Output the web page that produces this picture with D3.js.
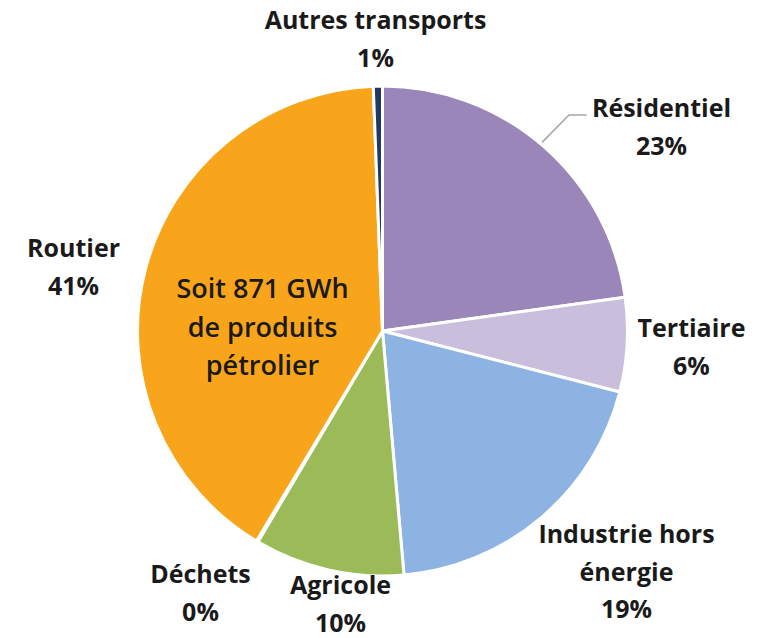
<!DOCTYPE html>
<html>
<head>
<meta charset="utf-8">
<script src="https://cdn.jsdelivr.net/npm/d3@7"></script>
<style>
  html, body { margin: 0; padding: 0; background: #fff; }
  svg { display: block; font-family: "Open Sans", Lato, sans-serif; }
  .label { font-weight: 700; font-size: 25px; fill: #1a1a1a; }
  .center { font-weight: 600; font-size: 27px; fill: #1a1a1a; }
</style>
</head>
<body>
<svg width="766" height="638"></svg>
<script>
// parts de la consommation de produits pétroliers (sens horaire depuis midi)
const categories = ["Résidentiel", "Tertiaire", "Industrie hors énergie", "Agricole", "Déchets", "Routier", "Autres transports"];
const shares = [22.8, 6.2, 19.6, 9.9, 0.1, 40.8, 0.6];
const shareLabels = ["23%", "6%", "19%", "10%", "0%", "41%", "1%"];
const labelLines = [["Résidentiel"], ["Tertiaire"], ["Industrie hors", "énergie"], ["Agricole"], ["Déchets"], ["Routier"], ["Autres transports"]];
const centerLines = ["Soit 871 GWh", "de produits", "pétrolier"];

const colors = ["#9a86b8", "#c9bfdc", "#8db3e2", "#9bbb59", "#7f7f7f", "#f9a51b", "#1f3864"];

// label anchor (centre x, first baseline) relative to the pie centre
const labelPos = {
  "Résidentiel": [279, -214],
  "Tertiaire": [309, 6],
  "Industrie hors énergie": [244, 212],
  "Agricole": [-42, 263],
  "Déchets": [-182, 252],
  "Routier": [-309, -74],
  "Autres transports": [-7, -302]
};

const cx = 382.5, cy = 331, radius = 245, lineH = 37.5;

const svg = d3.select("svg");
const g = svg.append("g").attr("transform", `translate(${cx},${cy})`);

const pie = d3.pie().sort(null).value((d) => d.value);
const arc = d3.arc().innerRadius(0).outerRadius(radius);

const data = categories.map((c, i) => ({ name: c, value: shares[i], pct: shareLabels[i], lines: labelLines[i], color: colors[i] }));
const arcs = pie(data);

g.selectAll("path")
  .data(arcs)
  .join("path")
  .attr("d", arc)
  .attr("fill", (d) => d.data.color)
  .attr("stroke", "#fff")
  .attr("stroke-width", 3)
  .attr("stroke-linejoin", "round");

// leader line for Résidentiel
const res = arcs[0];
const onEdge = d3.pointRadial(res.startAngle + (res.endAngle - res.startAngle) * 0.49, radius + 2);
g.append("polyline")
  .attr("points", [onEdge, [onEdge[0] + 27, -216], [204, -216]].map((p) => p.join(",")).join(" "))
  .attr("fill", "none")
  .attr("stroke", "#a6a6a6")
  .attr("stroke-width", 1.5);

const labels = g.selectAll("text.label")
  .data(arcs)
  .join("text")
  .attr("class", "label")
  .attr("text-anchor", "middle")
  .attr("x", (d) => labelPos[d.data.name][0])
  .attr("y", (d) => labelPos[d.data.name][1]);

labels.selectAll("tspan")
  .data((d) => d.data.lines.concat([d.data.pct]).map((t) => ({ t, x: labelPos[d.data.name][0] })))
  .join("tspan")
  .attr("x", (d) => d.x)
  .attr("dy", (d, i) => (i === 0 ? 0 : lineH))
  .text((d) => d.t);

g.append("text")
  .attr("class", "center")
  .attr("text-anchor", "middle")
  .attr("y", -33)
  .selectAll("tspan")
  .data(centerLines)
  .join("tspan")
  .attr("x", -120)
  .attr("dy", (d, i) => (i === 0 ? 0 : 38.5))
  .text((d) => d);
</script>
</body>
</html>
